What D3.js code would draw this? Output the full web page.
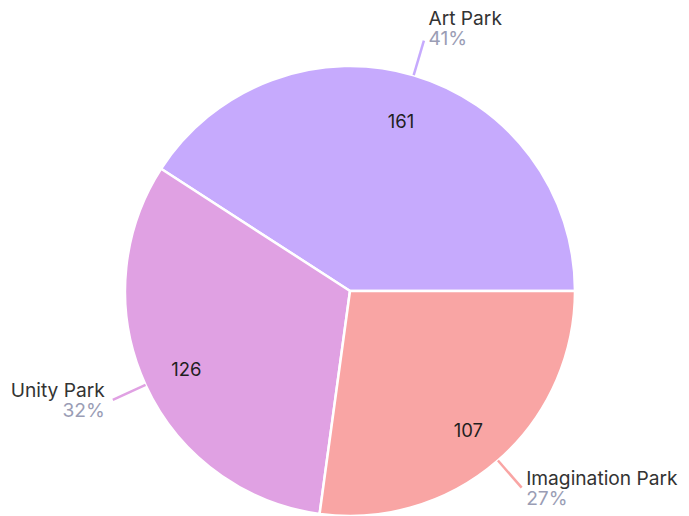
<!DOCTYPE html>
<html>
<head>
<meta charset="utf-8">
<script src="https://cdn.jsdelivr.net/npm/d3@7"></script>
<style>
  html, body { margin: 0; padding: 0; background: #fff; }
  svg { display: block; font-family: Inter, "Noto Sans", sans-serif; }
</style>
</head>
<body>
<svg id="chart" width="689" height="516"></svg>
<script>
const categories = ["Art Park", "Unity Park", "Imagination Park"];
const values = [161, 126, 107];
const colors = ["#c6aafd", "#e0a1e3", "#f9a5a4"];

const width = 689, height = 516;
const cx = 350, cy = 291, R = 225;

const data = categories.map((c, i) => ({ name: c, value: values[i], color: colors[i] }));
const total = d3.sum(values);

const svg = d3.select("#chart");
const g = svg.append("g").attr("transform", `translate(${cx},${cy})`);

const pie = d3.pie().value(d => d.value).sort(null)
  .startAngle(Math.PI / 2).endAngle(Math.PI / 2 - 2 * Math.PI);
const arcs = pie(data);
const arc = d3.arc().innerRadius(0).outerRadius(R);

g.selectAll("path.slice").data(arcs).join("path")
  .attr("class", "slice")
  .attr("d", arc)
  .attr("fill", d => d.data.color)
  .attr("stroke", "#fff")
  .attr("stroke-width", 2.5)
  .attr("stroke-linejoin", "round");

const mid = d => (d.startAngle + d.endAngle) / 2;
const pt = (a, r) => [Math.sin(a) * r, -Math.cos(a) * r];

// value labels
g.selectAll("text.val").data(arcs).join("text")
  .attr("class", "val")
  .attr("x", d => pt(mid(d), R * 0.8)[0])
  .attr("y", d => pt(mid(d), R * 0.8)[1] + 3)
  .attr("text-anchor", "middle")
  .attr("dominant-baseline", "central")
  .attr("font-size", 18.5)
  .attr("fill", "#1f1f1f")
  .text(d => d.data.value);

// leader lines
const lineOuter = R + 36;
g.selectAll("line.lead").data(arcs).join("line")
  .attr("class", "lead")
  .attr("x1", d => pt(mid(d), R)[0])
  .attr("y1", d => pt(mid(d), R)[1])
  .attr("x2", d => pt(mid(d), lineOuter)[0])
  .attr("y2", d => pt(mid(d), lineOuter)[1])
  .attr("stroke", d => d.data.color)
  .attr("stroke-width", 2.5);

// outer labels
const fmt = d3.format(".0%");
const lab = g.selectAll("g.lab").data(arcs).join("g").attr("class", "lab")
  .attr("transform", d => {
    const a = mid(d);
    const [x, y] = pt(a, lineOuter);
    const right = Math.sin(a) >= 0;
    const up = Math.max(0, Math.cos(a));
    const dx = right ? 4.5 : -8;
    const dy = -3 - 13 * up;
    return `translate(${x + dx},${y + dy})`;
  })
  .attr("text-anchor", d => Math.sin(mid(d)) >= 0 ? "start" : "end");

lab.append("text")
  .attr("y", 0)
  .attr("font-size", 19.2)
  .attr("fill", "#333")
  .text(d => d.data.name);
lab.append("text")
  .attr("y", 20)
  .attr("font-size", 19.2)
  .attr("fill", "#9a9db5")
  .text(d => fmt(d.data.value / total));
</script>
</body>
</html>
